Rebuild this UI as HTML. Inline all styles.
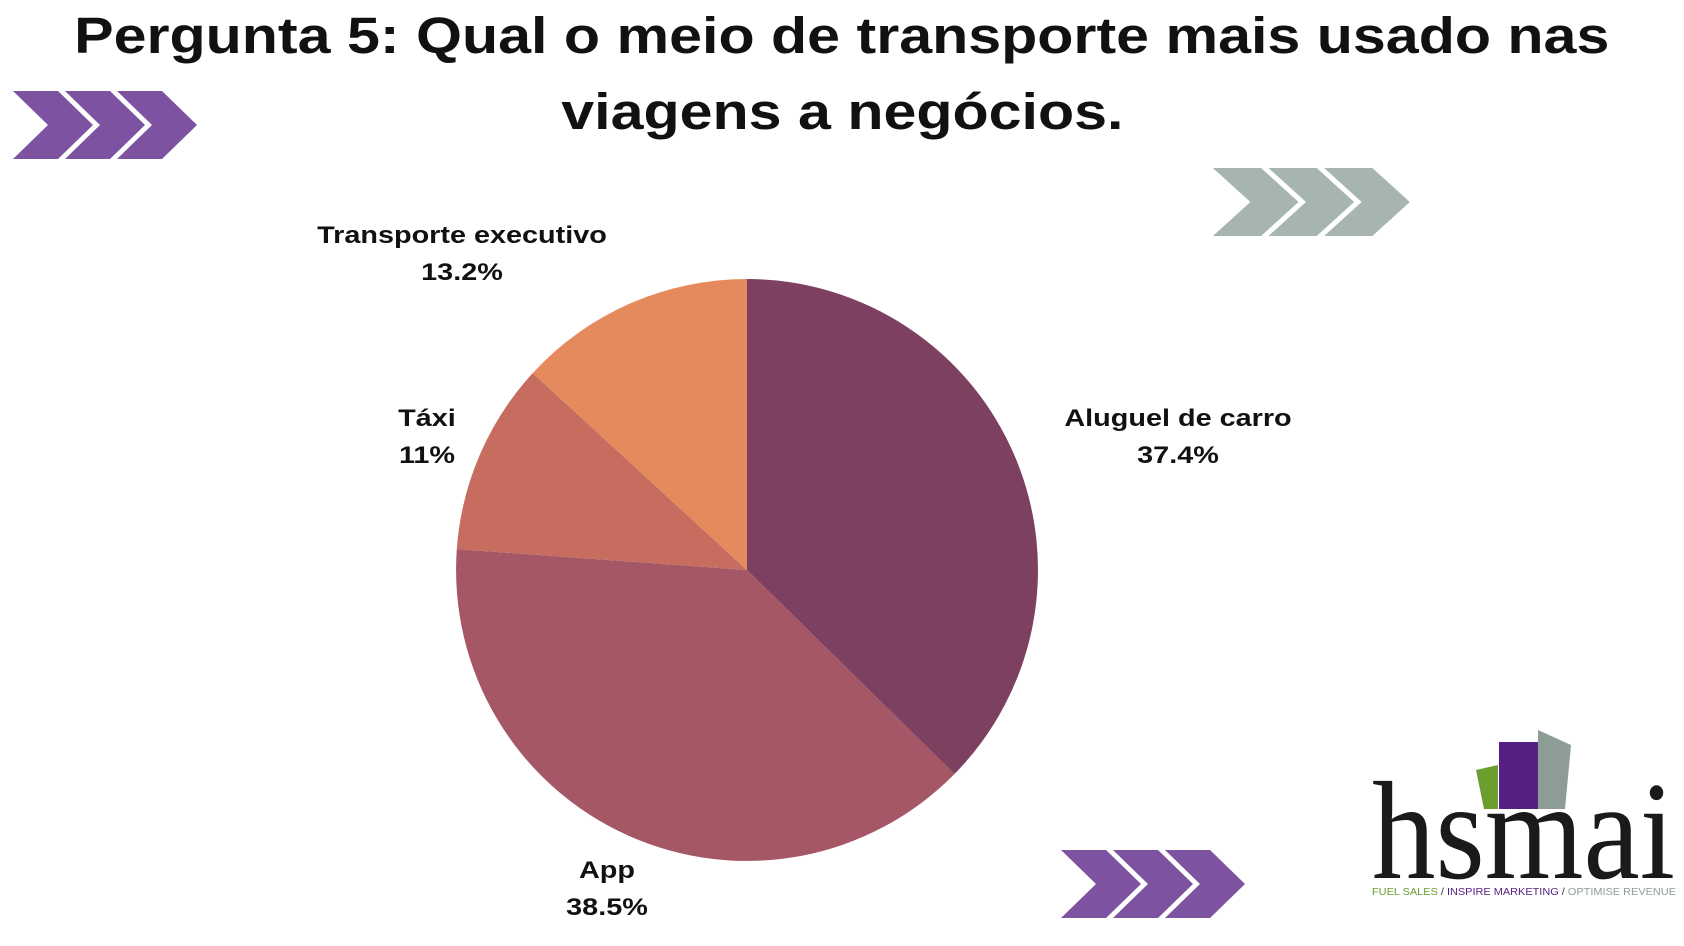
<!DOCTYPE html>
<html><head><meta charset="utf-8"><style>
html,body{margin:0;padding:0;background:#fff;}
body{width:1684px;height:946px;overflow:hidden;position:relative;font-family:"Liberation Sans",sans-serif;}
.t{position:absolute;left:0;width:1684px;text-align:center;font-weight:bold;font-size:51px;color:#111;}
.t span{display:inline-block;transform:scaleX(1.16);}
.l{position:absolute;font-weight:bold;font-size:24px;color:#111;text-align:center;width:400px;line-height:37px;transform:scaleX(1.2);}
</style></head><body>
<div class="t" style="top:6px;"><span>Pergunta 5: Qual o meio de transporte mais usado nas</span></div>
<div class="t" style="top:82px;"><span>viagens a negócios.</span></div>
<svg width="1684" height="946" style="position:absolute;left:0;top:0">
<defs>
<g id="chev"><polygon points="0,0 45,0 80,34 45,68 0,68 35,34"/><polygon points="52,0 97,0 132,34 97,68 52,68 87,34"/><polygon points="104,0 149,0 184,34 149,68 104,68 139,34"/></g>
</defs>
<use href="#chev" x="13" y="91" fill="#7d52a0"/>
<use href="#chev" x="1213" y="168" fill="#a6b5ad" transform="translate(-85,0) scale(1.07,1)"/>
<use href="#chev" x="1061" y="850" fill="#7d52a0"/>
<g transform="translate(747,570)">
<path d="M0,0 L0,-291 A291,291 0 0,1 207.5,204 Z" fill="#7e4060"/>
<path d="M0,0 L207.5,204 A291,291 0 0,1 -290.2,-20.9 Z" fill="#a55766"/>
<path d="M0,0 L-290.2,-20.9 A291,291 0 0,1 -214.3,-196.9 Z" fill="#c76d60"/>
<path d="M0,0 L-214.3,-196.9 A291,291 0 0,1 0,-291 Z" fill="#e48a5c"/>
</g>
<polygon points="1476,770 1498,765 1498,809 1484,809" fill="#6b9e2e"/>
<rect x="1499" y="742" width="40" height="67" fill="#561f84"/>
<polygon points="1538,730 1571,745 1565,809 1538,809" fill="#8e9c96"/>
<text x="1372" y="878" font-family="Liberation Serif,serif" font-size="140" fill="#1a1a1a" textLength="303" lengthAdjust="spacingAndGlyphs">hsmai</text>
<text x="1372" y="895" font-family="Liberation Sans,sans-serif" font-size="10" textLength="304" lengthAdjust="spacingAndGlyphs"><tspan fill="#6b9e2e">FUEL SALES </tspan><tspan fill="#333">/ </tspan><tspan fill="#561f84">INSPIRE MARKETING </tspan><tspan fill="#333">/ </tspan><tspan fill="#8e9c96">OPTIMISE REVENUE</tspan></text>
</svg>
<div class="l" style="left:262px;top:217px;">Transporte executivo<br>13.2%</div>
<div class="l" style="left:227px;top:400px;">Táxi<br>11%</div>
<div class="l" style="left:978px;top:400px;">Aluguel de carro<br>37.4%</div>
<div class="l" style="left:407px;top:852px;">App<br>38.5%</div>
</body></html>
